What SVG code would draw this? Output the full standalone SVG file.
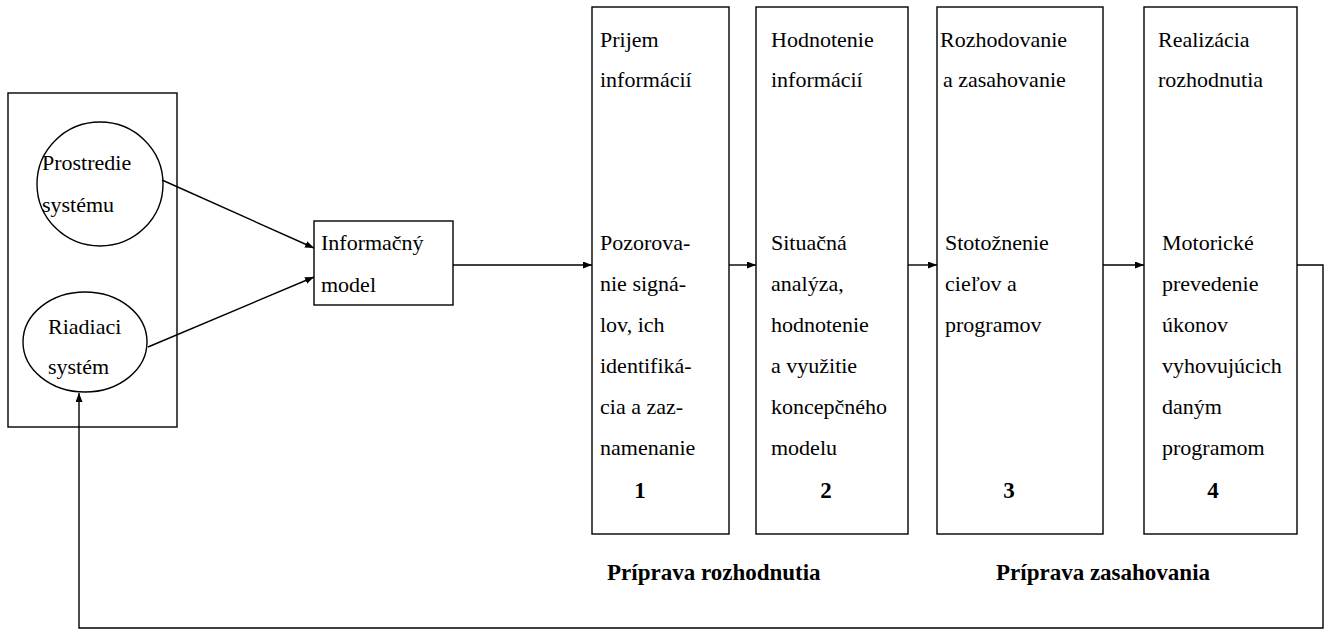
<svg xmlns="http://www.w3.org/2000/svg" width="1330" height="631" viewBox="0 0 1330 631">
<style>
.s{fill:none;stroke:#000;stroke-width:1.4}
.t{font-size:22px;fill:#000}
.b{font-size:23px;font-weight:bold;fill:#000}
.c{stroke:#000;stroke-width:1.4;fill:none;marker-end:url(#ah)}
</style>
<defs>
<marker id="ah" markerWidth="9" markerHeight="7" refX="9" refY="3.5" orient="auto" markerUnits="userSpaceOnUse">
<path d="M0,0 L9,3.5 L0,7 Z" fill="#000"/>
</marker>
</defs>
<rect width="1330" height="631" fill="#fff"/>
<g font-family="Liberation Serif, Times New Roman, Times, serif">
<g id="system">
<rect class="s" x="8" y="93" width="169" height="334"/>
</g>
<g id="prostredie">
<ellipse class="s" cx="100" cy="184" rx="63" ry="62"/>
<text class="t" x="42" y="170">Prostredie</text>
<text class="t" x="42" y="212">systému</text>
</g>
<g id="riadiaci">
<ellipse class="s" cx="85" cy="342" rx="62" ry="50"/>
<text class="t" x="48" y="334">Riadiaci</text>
<text class="t" x="48" y="374">systém</text>
</g>
<g id="model">
<rect class="s" x="314" y="221" width="139" height="84"/>
<text class="t" x="321" y="250">Informačný</text>
<text class="t" x="321" y="292">model</text>
</g>
<g id="box1">
<rect class="s" x="592" y="7" width="137" height="527"/>
<text class="t" x="600" y="47">Prijem</text>
<text class="t" x="600" y="87">informácií</text>
<text class="t" x="600" y="250">Pozorova-</text>
<text class="t" x="600" y="291">nie signá-</text>
<text class="t" x="600" y="332">lov, ich</text>
<text class="t" x="600" y="373">identifiká-</text>
<text class="t" x="600" y="414">cia a zaz-</text>
<text class="t" x="600" y="455">namenanie</text>
<text class="b" x="640" y="498" text-anchor="middle">1</text>
</g>
<g id="box2">
<rect class="s" x="756" y="7" width="152" height="527"/>
<text class="t" x="771" y="47">Hodnotenie</text>
<text class="t" x="771" y="87">informácií</text>
<text class="t" x="771" y="250">Situačná</text>
<text class="t" x="771" y="291">analýza,</text>
<text class="t" x="771" y="332">hodnotenie</text>
<text class="t" x="771" y="373">a využitie</text>
<text class="t" x="771" y="414">koncepčného</text>
<text class="t" x="771" y="455">modelu</text>
<text class="b" x="826" y="498" text-anchor="middle">2</text>
</g>
<g id="box3">
<rect class="s" x="937" y="7" width="166" height="527"/>
<text class="t" x="940" y="47">Rozhodovanie</text>
<text class="t" x="943" y="87">a zasahovanie</text>
<text class="t" x="945" y="250">Stotožnenie</text>
<text class="t" x="945" y="291">cieľov a</text>
<text class="t" x="945" y="332">programov</text>
<text class="b" x="1009" y="498" text-anchor="middle">3</text>
</g>
<g id="box4">
<rect class="s" x="1144" y="7" width="153" height="527"/>
<text class="t" x="1158" y="47">Realizácia</text>
<text class="t" x="1158" y="87">rozhodnutia</text>
<text class="t" x="1162" y="250">Motorické</text>
<text class="t" x="1162" y="291">prevedenie</text>
<text class="t" x="1162" y="332">úkonov</text>
<text class="t" x="1162" y="373">vyhovujúcich</text>
<text class="t" x="1162" y="414">daným</text>
<text class="t" x="1162" y="455">programom</text>
<text class="b" x="1213" y="498" text-anchor="middle">4</text>
</g>
<g id="labels">
<text class="b" x="607" y="580">Príprava rozhodnutia</text>
<text class="b" x="996" y="580">Príprava zasahovania</text>
</g>
</g>
<g id="connectors">
<line class="c" x1="162" y1="180" x2="314" y2="248"/>
<line class="c" x1="148" y1="347" x2="314" y2="277"/>
<line class="c" x1="453" y1="265" x2="592" y2="265"/>
<line class="c" x1="729" y1="265" x2="756" y2="265"/>
<line class="c" x1="908" y1="265" x2="937" y2="265"/>
<line class="c" x1="1103" y1="265" x2="1144" y2="265"/>
<polyline class="c" points="1297,265 1323,265 1323,628 79,628 79,393"/>
</g>
</svg>
